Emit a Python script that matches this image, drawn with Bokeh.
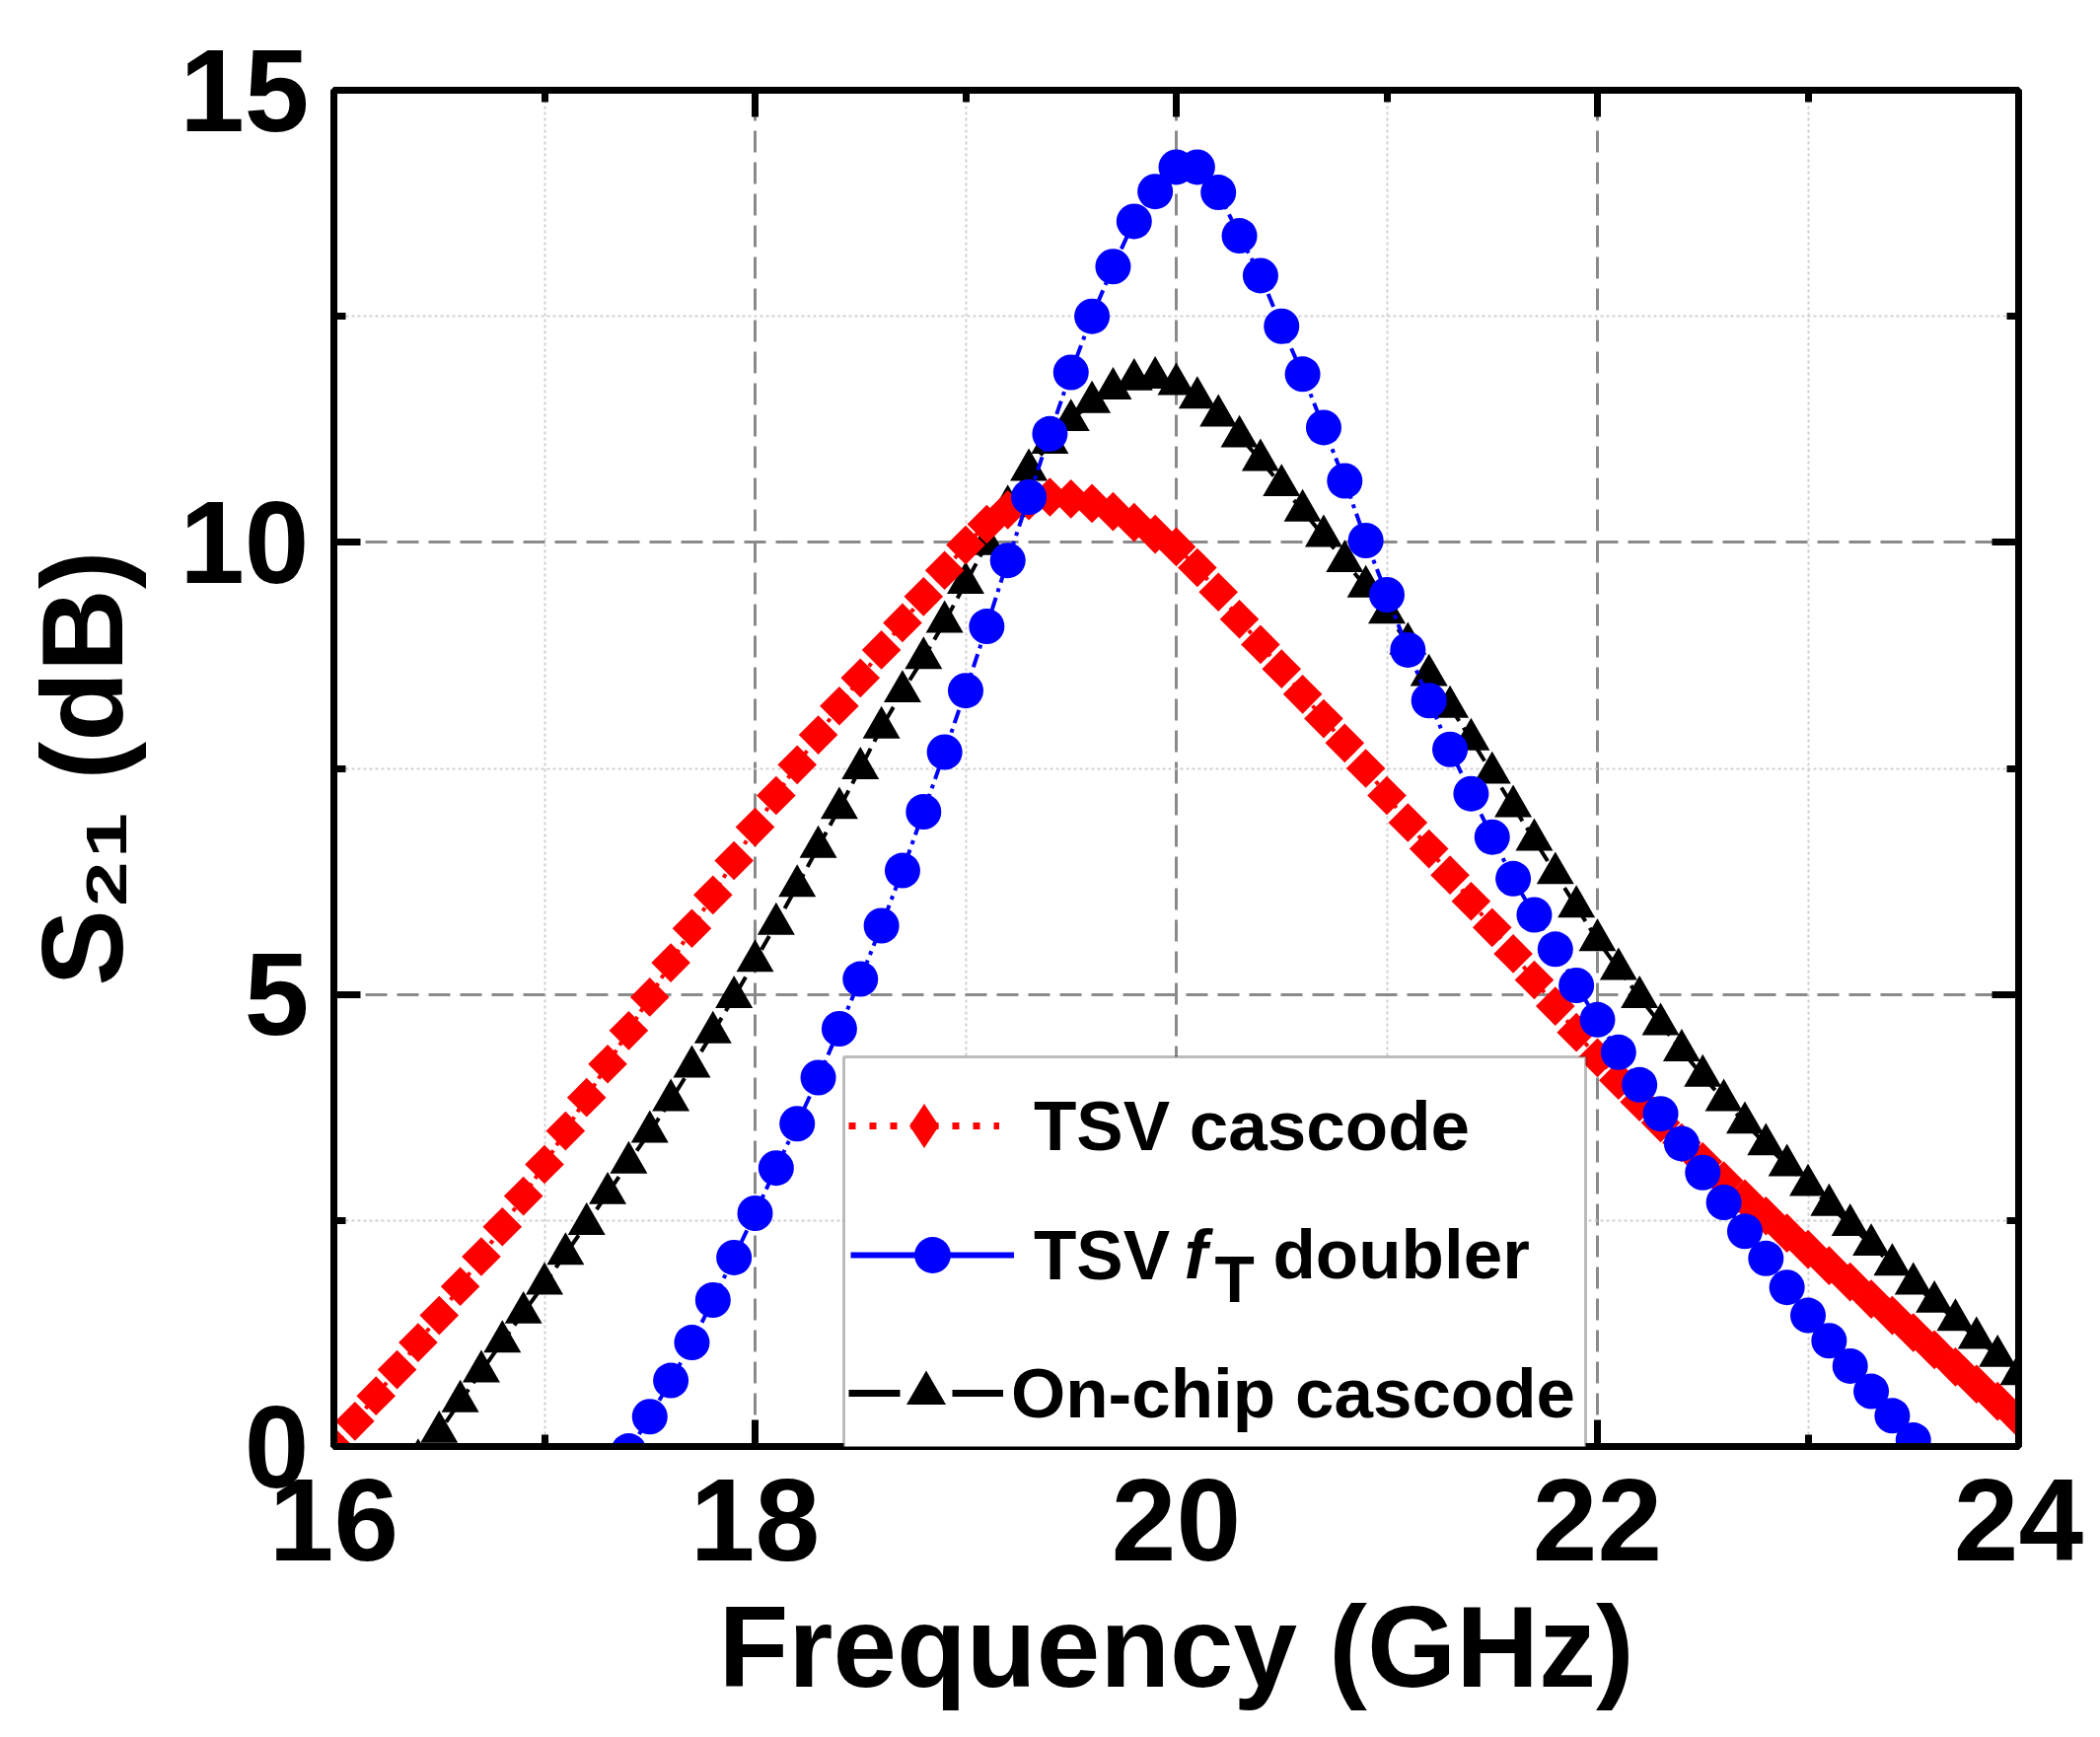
import numpy as np
from bokeh.plotting import figure
from bokeh.models import (FixedTicker, LinearAxis, Legend, LegendItem, Label,
                          BoxAnnotation, Range1d, CustomJSTickFormatter)
from bokeh.embed import file_html
from bokeh.resources import INLINE

# frequency grid (GHz), 0.1 GHz steps
freq = [16.0, 16.1, 16.2, 16.3, 16.4, 16.5, 16.6, 16.7, 16.8, 16.9,
        17.0, 17.1, 17.2, 17.3, 17.4, 17.5, 17.6, 17.7, 17.8, 17.9,
        18.0, 18.1, 18.2, 18.3, 18.4, 18.5, 18.6, 18.7, 18.8, 18.9,
        19.0, 19.1, 19.2, 19.3, 19.4, 19.5, 19.6, 19.7, 19.8, 19.9,
        20.0, 20.1, 20.2, 20.3, 20.4, 20.5, 20.6, 20.7, 20.8, 20.9,
        21.0, 21.1, 21.2, 21.3, 21.4, 21.5, 21.6, 21.7, 21.8, 21.9,
        22.0, 22.1, 22.2, 22.3, 22.4, 22.5, 22.6, 22.7, 22.8, 22.9,
        23.0, 23.1, 23.2, 23.3, 23.4, 23.5, 23.6, 23.7, 23.8, 23.9,
        24.0]

# S21 (dB) of the TSV cascode, 16.0 .. 24.0 GHz
tsv_cascode = [0.00, 0.28, 0.56, 0.85, 1.15, 1.45, 1.77, 2.10, 2.43, 2.77,
               3.12, 3.49, 3.86, 4.23, 4.60, 4.97, 5.35, 5.73, 6.10, 6.48,
               6.85, 7.20, 7.54, 7.87, 8.19, 8.50, 8.81, 9.11, 9.40, 9.69,
               9.97, 10.20, 10.36, 10.46, 10.50, 10.48, 10.43, 10.34, 10.22, 10.09,
               9.95, 9.72, 9.45, 9.15, 8.87, 8.60, 8.32, 8.05, 7.78, 7.50,
               7.20, 6.90, 6.61, 6.32, 6.03, 5.74, 5.45, 5.16, 4.87, 4.58,
               4.30, 4.05, 3.81, 3.58, 3.36, 3.15, 2.94, 2.74, 2.55, 2.36,
               2.18, 2.00, 1.82, 1.63, 1.45, 1.26, 1.07, 0.88, 0.69, 0.50,
               0.31]

# S21 (dB) of the TSV fT doubler, 17.4 .. 23.5 GHz
ft_freq = freq[14:76]
tsv_ft_doubler = [-0.05, 0.33, 0.73, 1.15, 1.62, 2.09,
                  2.58, 3.08, 3.57, 4.08, 4.62, 5.17, 5.76, 6.37, 7.02, 7.68,
                  8.36, 9.07, 9.80, 10.50, 11.20, 11.88, 12.50, 13.05, 13.55, 13.88,
                  14.15, 14.15, 13.87, 13.39, 12.95, 12.39, 11.86, 11.27, 10.68, 10.02,
                  9.42, 8.81, 8.25, 7.71, 7.22, 6.74, 6.28, 5.88, 5.50, 5.10,
                  4.72, 4.36, 4.00, 3.68, 3.35, 3.03, 2.70, 2.38, 2.08, 1.76,
                  1.45, 1.17, 0.89, 0.61, 0.34, 0.07]

# S21 (dB) of the on-chip cascode, 16.4 .. 24.0 GHz
onchip_freq = freq[4:]
onchip_cascode = [-0.15, 0.16, 0.50, 0.83, 1.16, 1.48,
                  1.80, 2.13, 2.46, 2.80, 3.14, 3.48, 3.83, 4.20, 4.58, 4.97,
                  5.37, 5.78, 6.20, 6.63, 7.06, 7.50, 7.95, 8.35, 8.72, 9.12,
                  9.55, 9.98, 10.40, 10.80, 11.10, 11.35, 11.55, 11.70, 11.80, 11.82,
                  11.75, 11.60, 11.40, 11.17, 10.91, 10.63, 10.35, 10.07, 9.79, 9.51,
                  9.22, 8.88, 8.53, 8.18, 7.82, 7.45, 7.08, 6.71, 6.34, 5.97,
                  5.60, 5.28, 4.97, 4.67, 4.38, 4.10, 3.83, 3.58, 3.34, 3.11,
                  2.89, 2.67, 2.45, 2.23, 2.01, 1.80, 1.60, 1.40, 1.20, 1.00,
                  0.80]

x_major = [16, 18, 20, 22, 24]
x_minor = [17, 19, 21, 23]
y_major = [0, 5, 10, 15]
y_minor = [2.5, 7.5, 12.5]

FONT = "Liberation Sans"

p = figure(frame_width=1708, frame_height=1375,
           min_border_left=338, min_border_right=75,
           min_border_top=91, min_border_bottom=287,
           x_range=Range1d(16, 24), y_range=Range1d(0, 15),
           output_backend="svg", toolbar_location=None, tools="")
p.background_fill_color = "white"
p.border_fill_color = "white"
p.outline_line_color = "black"
p.outline_line_width = 7

x_ticker = FixedTicker(ticks=x_major, minor_ticks=x_minor)
y_ticker = FixedTicker(ticks=y_major, minor_ticks=y_minor)


def style_axis(ax, ticker):
    ax.ticker = ticker
    ax.axis_line_width = 7
    ax.axis_line_color = "black"
    ax.major_tick_in = 27
    ax.major_tick_out = 0
    ax.minor_tick_in = 12
    ax.minor_tick_out = 0
    ax.major_tick_line_width = 7
    ax.minor_tick_line_width = 7
    ax.major_label_text_font = FONT
    ax.major_label_text_font_style = "bold"
    ax.major_label_text_font_size = "118px"
    ax.major_label_text_color = "black"


style_axis(p.xaxis[0], x_ticker)
style_axis(p.yaxis[0], y_ticker)
p.xaxis.major_label_standoff = 33
p.yaxis.major_label_standoff = 25
p.xaxis.axis_label = "Frequency (GHz)"
p.yaxis.axis_label = "S\u2082\u2081 (dB)"
for ax in (p.xaxis[0], p.yaxis[0]):
    ax.axis_label_text_font = FONT
    ax.axis_label_text_font_style = "bold"
    ax.axis_label_text_font_size = "116px"
    ax.axis_label_text_color = "black"
p.xaxis.axis_label_standoff = 20
p.yaxis.axis_label_standoff = 30

for side, tk in (("above", x_ticker), ("right", y_ticker)):
    ax = LinearAxis()
    style_axis(ax, tk)
    ax.formatter = CustomJSTickFormatter(code="return ''")
    ax.major_label_standoff = 0
    p.add_layout(ax, side)

p.xgrid.ticker = x_ticker
p.ygrid.ticker = y_ticker
for g in (p.xgrid, p.ygrid):
    g.grid_line_color = "#8a8a8a"
    g.grid_line_width = 3
    g.grid_line_dash = "22 10"
    g.minor_grid_line_color = "#d0d0d0"
    g.minor_grid_line_width = 2
    g.minor_grid_line_dash = "3 3"

# data series
p.line(onchip_freq, onchip_cascode, line_color="black", line_width=4, line_dash="16 8")
p.scatter(onchip_freq, onchip_cascode, marker="triangle", size=38,
          fill_color="black", line_color=None)
p.line(freq, tsv_cascode, line_color="red", line_width=4, line_dash="4 6")
p.scatter(freq, tsv_cascode, marker="square", angle=np.pi / 4, size=28,
          fill_color="red", line_color=None)
p.line(ft_freq, tsv_ft_doubler, line_color="blue", line_width=4, line_dash="14 6 4 6")
p.scatter(ft_freq, tsv_ft_doubler, marker="circle", size=36,
          fill_color="blue", line_color=None)

# legend frame (covers the bottom axis line like the original)
box = BoxAnnotation(left=517, right=1269, bottom=-5, top=395,
                    left_units="screen", right_units="screen",
                    top_units="screen", bottom_units="screen",
                    fill_color="white", fill_alpha=1.0,
                    line_color="#222222", line_width=3, level="overlay")
p.add_layout(box)


def legend_keys(color, dash, width, marker):
    # legend-only renderers: a single NaN point so nothing shows in the frame
    ln = p.line(x=[np.nan], y=[np.nan], line_color=color, line_width=width, line_dash=dash)
    mk = p.scatter(x=[np.nan], y=[np.nan], marker=marker, fill_color=color, line_color=None)
    return [ln, mk]


def add_legend(label, keys, loc, gw, gh, standoff):
    leg = Legend(items=[LegendItem(label=label, renderers=keys)], location=loc,
                 glyph_width=gw, glyph_height=gh, label_height=gh,
                 label_standoff=standoff, padding=0, margin=0, spacing=0,
                 border_line_color=None, background_fill_alpha=0,
                 label_text_font=FONT, label_text_font_style="bold",
                 label_text_font_size="71px", label_text_color="black",
                 level="overlay")
    p.add_layout(leg)


add_legend("TSV cascode", legend_keys("red", "7 14", 7, "diamond"),
           (522, 269), 153, 112, 35)
add_legend("TSV", legend_keys("blue", "solid", 6, "circle"),
           (524, 148), 166, 92, 20)
add_legend("On-chip cascode", legend_keys("black", "52 53", 7, "triangle"),
           (522, 4), 157, 100, 8)

# rest of the second legend label: italic f with subscript T
for txt, x, y, size, style in (("f", 862, 195, "71px", "bold italic"),
                               ("T", 893, 170, "66px", "bold"),
                               ("doubler", 952, 195, "71px", "bold")):
    p.add_layout(Label(x=x, y=y, x_units="screen", y_units="screen", text=txt,
                       text_font=FONT, text_font_style=style, text_font_size=size,
                       text_color="black", text_baseline="alphabetic",
                       text_align="left", level="overlay"))

open("out.html", "w").write(file_html(p, INLINE))
